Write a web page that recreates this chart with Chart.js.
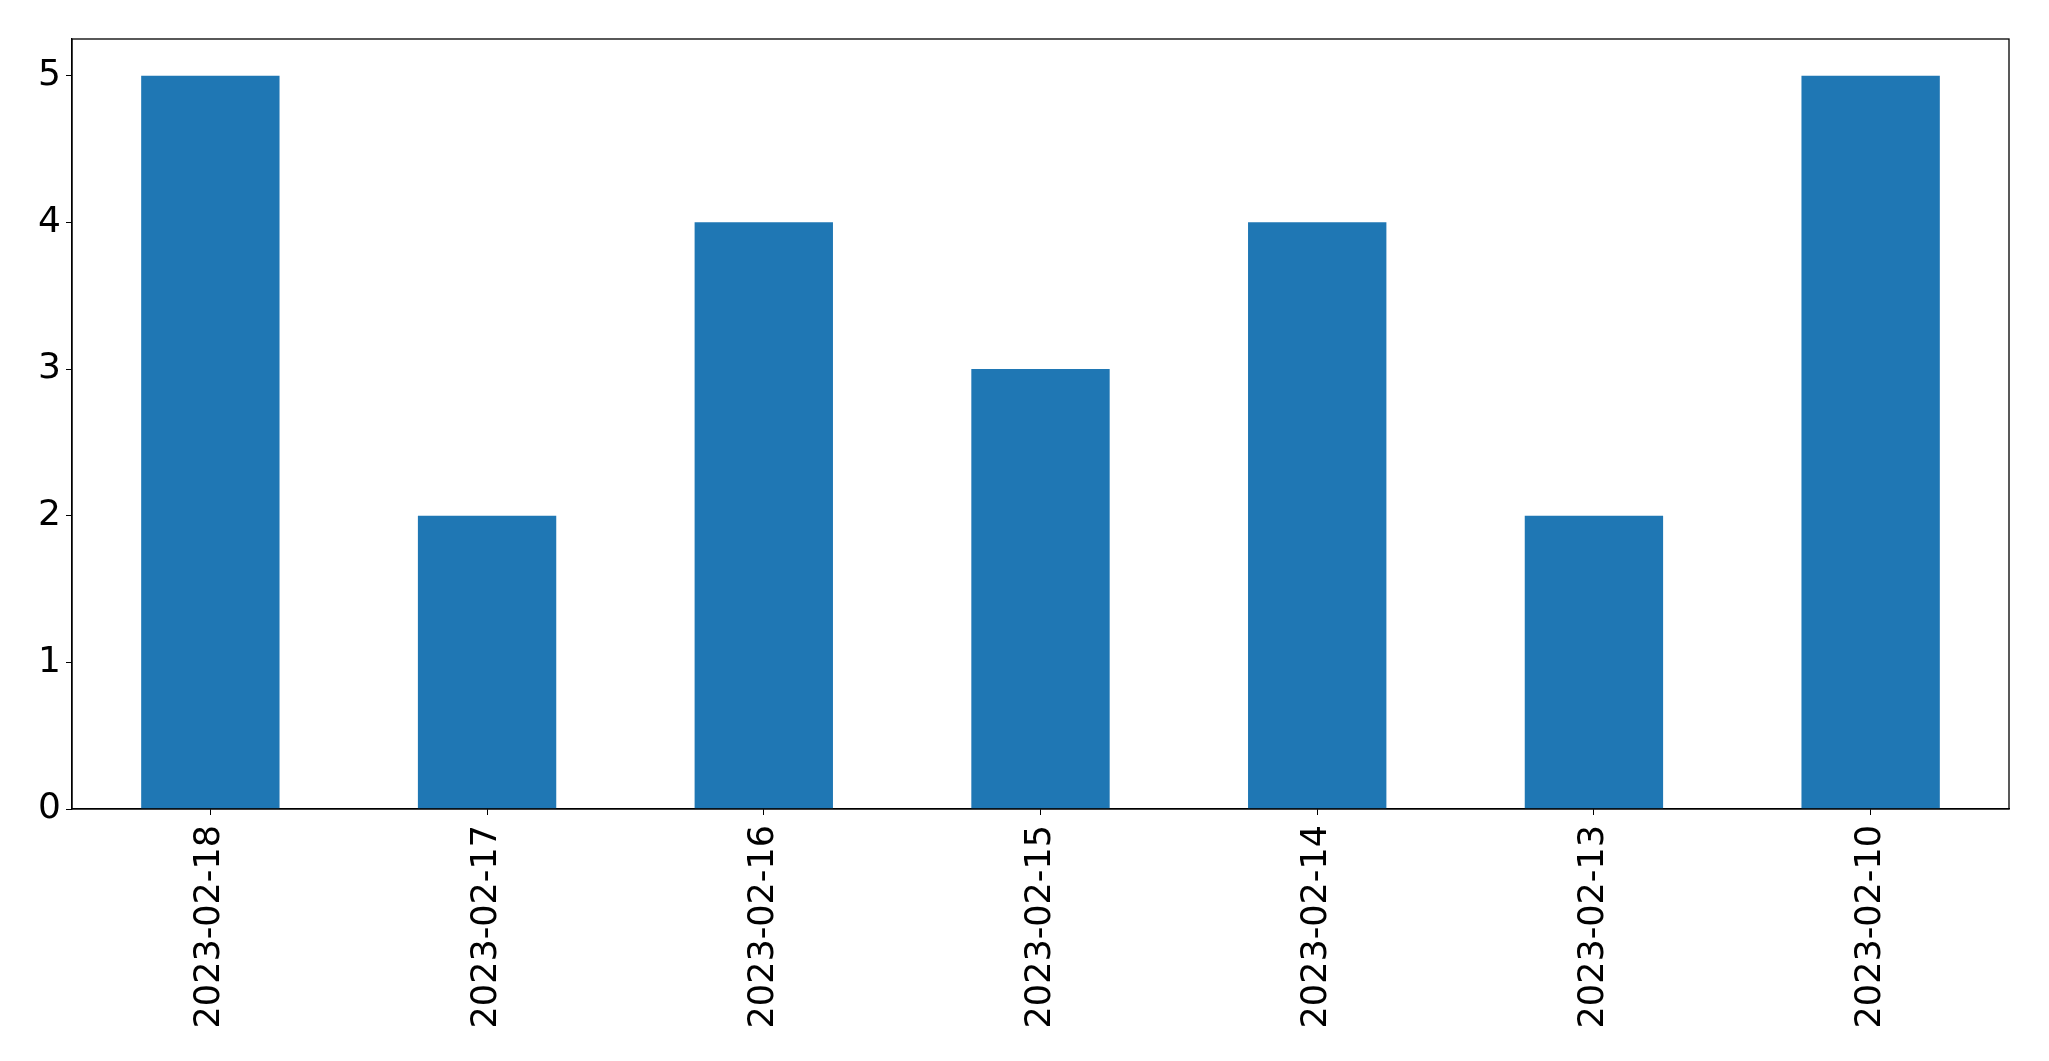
<!DOCTYPE html>
<html lang="en">
  <head>
    <meta charset="UTF-8" />
    <title>Bar chart</title>
    <script src="https://cdn.jsdelivr.net/npm/chart.js"></script>
    <style>
      body { margin: 0; background: #fff; }
      #wrap { width: 2049px; height: 1061px; }
    </style>
  </head>
  <body>
    <div id="wrap">
      <canvas id="myChart"></canvas>
    </div>

    <script>
      // dates (in the order shown) and counts
      const dates = [
        "2023-02-18",
        "2023-02-17",
        "2023-02-16",
        "2023-02-15",
        "2023-02-14",
        "2023-02-13",
        "2023-02-10",
      ];
      const counts = [5, 2, 4, 3, 4, 2, 5];
      const yTicks = [0, 1, 2, 3, 4, 5];

      Chart.defaults.font.family = "'DejaVu Sans', sans-serif";
      Chart.defaults.color = "#000";

      // matplotlib-style box around the plot area
      const frame = {
        id: "frame",
        afterDraw(chart) {
          const { ctx, chartArea: a } = chart;
          ctx.save();
          ctx.strokeStyle = "#000";
          ctx.lineWidth = 1.3;
          ctx.strokeRect(a.left, a.top, a.right - a.left, a.bottom - a.top);
          ctx.restore();
        },
      };

      const config = {
        type: "bar",
        data: {
          labels: dates,
          datasets: [
            {
              data: counts,
              backgroundColor: "#1f77b4",
              barPercentage: 0.5,
              categoryPercentage: 1,
            },
          ],
        },
        options: {
          responsive: true,
          maintainAspectRatio: false,
          animation: false,
          layout: { padding: { top: 39, right: 40, left: 0, bottom: 0 } },
          plugins: { legend: { display: false }, tooltip: { enabled: false } },
          scales: {
            x: {
              offset: true,
              grid: { drawOnChartArea: false, tickLength: 6, color: "#000", offset: false },
              border: { color: "#000", width: 1.3 },
              ticks: {
                font: { size: 35 },
                minRotation: 90,
                maxRotation: 90,
                padding: 10,
              },
              afterFit(scale) {
                scale.height = 252;
              },
            },
            y: {
              min: 0,
              max: 5.25,
              grid: { drawOnChartArea: false, tickLength: 6, color: "#000" },
              border: { color: "#000", width: 1.3 },
              ticks: { font: { size: 36 }, padding: 5 },
              afterBuildTicks(scale) {
                scale.ticks = yTicks.map((v) => ({ value: v }));
              },
              afterFit(scale) {
                scale.width = 72;
              },
            },
          },
        },
        plugins: [frame],
      };

      const myChart = new Chart(document.getElementById("myChart"), config);
    </script>
  </body>
</html>
